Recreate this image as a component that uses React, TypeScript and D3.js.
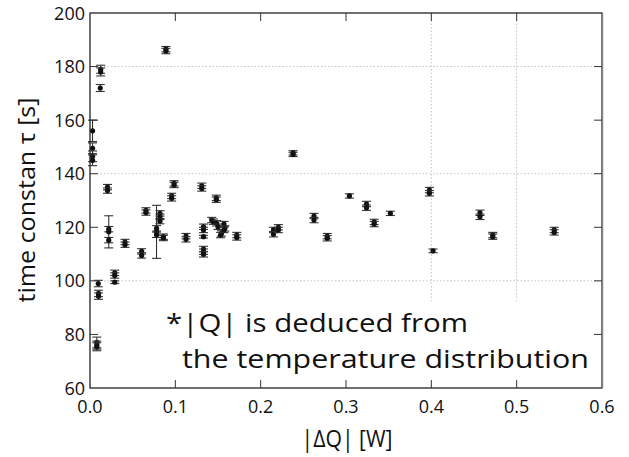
import React from "react";
import * as d3 from "d3";

const xVals = [
  0.003, 0.003, 0.003, 0.003, 0.0125, 0.0125, 0.012, 0.0097, 0.01, 0.01,
  0.008, 0.008, 0.008, 0.0205, 0.0205, 0.022, 0.022, 0.022, 0.029, 0.029,
  0.029, 0.041, 0.041, 0.0605, 0.0605, 0.0656, 0.0656, 0.078, 0.078, 0.078,
  0.082, 0.082, 0.082, 0.086, 0.086, 0.089, 0.089, 0.0957, 0.0957, 0.0985,
  0.0985, 0.1125, 0.1125, 0.131, 0.131, 0.133, 0.133, 0.133, 0.133, 0.133,
  0.133, 0.1426, 0.1445, 0.148, 0.148, 0.1485, 0.15, 0.154, 0.153, 0.157,
  0.158, 0.157, 0.172, 0.172, 0.215, 0.215, 0.2207, 0.2207, 0.238, 0.238,
  0.2625, 0.2625, 0.278, 0.278, 0.304, 0.324, 0.324, 0.333, 0.333, 0.352,
  0.3977, 0.3977, 0.402, 0.457, 0.457, 0.472, 0.472, 0.544, 0.544,
];
const tauVals = [
  156, 149.5, 146.5, 145, 179, 178, 172, 99, 95.3, 94.3,
  77, 76, 75.4, 135, 133.7, 119.3, 118.3, 115.2, 103, 102,
  99.5, 114.5, 113.5, 111, 109.5, 126.3, 125.5, 119.6, 118.3, 117.2,
  125.2, 123.9, 122.3, 116.5, 116, 186.5, 185.8, 131.7, 130.8, 136.4,
  135.8, 116.7, 115.5, 135.5, 134.5, 120.2, 119, 116.5, 111.9, 110.9,
  109.9, 122.7, 122.1, 131, 130.3, 121.5, 120.2, 117.7, 117.1, 121.2,
  119.6, 119, 117.1, 116.2, 119, 117.4, 120, 119, 147.8, 147.2,
  124.2, 122.7, 116.7, 115.9, 131.7, 128.7, 127.3, 122, 121.2, 125.2,
  133.9, 132.7, 111.2, 125.4, 123.9, 117.1, 116.5, 119, 118.1,
];
const errVals = [
  4, 2, 2, 2, 1.5, 1.5, 1.3, 1.2, 1.2, 1.2,
  2, 1.5, 1.5, 1, 1, 1, 6, 1, 1, 1,
  0.5, 1, 1, 1, 1, 1, 1, 1, 9.9, 1,
  1, 1, 1, 1, 1, 1, 1, 1, 1, 1,
  1, 1, 1, 1, 1, 1, 1, 0.5, 1, 1,
  1, 1, 1, 1, 1, 1, 1, 1, 1, 1,
  1, 1, 1, 1, 1, 1, 1, 1, 0.8, 0.8,
  1, 1, 1, 1, 0.8, 1, 1, 1, 1, 0.8,
  1, 1, 0.7, 1, 1, 1, 1, 1, 1,
];

const xTicks = [0, 0.1, 0.2, 0.3, 0.4, 0.5, 0.6];
const yTicks = [60, 80, 100, 120, 140, 160, 180, 200];
const yGrid = [100, 140, 180];
const xGrid = [0.4, 0.5];
const noteLines = ["*|Q| is deduced from", "the temperature distribution"];

const FONT = "'Open Sans', sans-serif";

export default function App() {
  const W = 629, H = 457;
  const L = 90, R = 602, T = 13, B = 388;
  const x = d3.scaleLinear().domain([0, 0.6]).range([L, R]);
  const y = d3.scaleLinear().domain([60, 200]).range([B, T]);
  const tk = 8;

  return (
    <svg width={W} height={H} style={{ position: "absolute", left: 0, top: 0, background: "#fff" }}>
      <rect x={0} y={0} width={W} height={H} fill="#fff" />
      {/* grid */}
      {yGrid.map((v) => (
        <line key={"gy" + v} x1={L} x2={R} y1={y(v)} y2={y(v)} stroke="#c4c4c4" strokeWidth={1} strokeDasharray="1.5,2" />
      ))}
      {xGrid.map((v) => (
        <line key={"gx" + v} x1={x(v)} x2={x(v)} y1={T} y2={B} stroke="#c4c4c4" strokeWidth={1} strokeDasharray="1.5,2" />
      ))}
      {/* annotation background */}
      <rect x={160} y={301} width={438} height={84} fill="#fff" />
      {/* data */}
      {xVals.map((xv, i) => {
        const cx = x(xv);
        const cy = y(tauVals[i]);
        const y1 = y(tauVals[i] + errVals[i]);
        const y2 = y(tauVals[i] - errVals[i]);
        return (
          <g key={"p" + i}>
            <line x1={cx} x2={cx} y1={y1} y2={y2} stroke="#222" strokeWidth={1} />
            <line x1={cx - 4.5} x2={cx + 4.5} y1={y1} y2={y1} stroke="#333" strokeWidth={1.1} />
            <line x1={cx - 4.5} x2={cx + 4.5} y1={y2} y2={y2} stroke="#333" strokeWidth={1.1} />
            <circle cx={cx} cy={cy} r={2.6} fill="#111" />
          </g>
        );
      })}
      {/* frame */}
      <rect x={L} y={T} width={R - L} height={B - T} fill="none" stroke="#222" strokeWidth={1.3} />
      <line x1={R + 0.5} x2={R + 0.5} y1={T} y2={B} stroke="#888" strokeWidth={1.5} />
      {/* ticks */}
      {xTicks.slice(1, -1).map((v) => (
        <g key={"xt" + v}>
          <line x1={x(v)} x2={x(v)} y1={B} y2={B - tk} stroke="#333" strokeWidth={1} />
          <line x1={x(v)} x2={x(v)} y1={T} y2={T + tk} stroke="#333" strokeWidth={1} />
        </g>
      ))}
      {yTicks.slice(1, -1).map((v) => (
        <g key={"yt" + v}>
          <line x1={L} x2={L + tk} y1={y(v)} y2={y(v)} stroke="#333" strokeWidth={1} />
          <line x1={R} x2={R - tk} y1={y(v)} y2={y(v)} stroke="#333" strokeWidth={1} />
        </g>
      ))}
      {/* tick labels */}
      {xTicks.map((v) => (
        <text key={"xl" + v} x={x(v)} y={413} textAnchor="middle" fontFamily={FONT} fontSize={18} fill="#111">
          {d3.format(".1f")(v)}
        </text>
      ))}
      {yTicks.map((v) => (
        <text key={"yl" + v} x={85} y={y(v) + 6.5} textAnchor="end" fontFamily={FONT} fontSize={18} fill="#111">
          {v}
        </text>
      ))}
      {/* axis labels */}
      <text x={347} y={447} textAnchor="middle" fontFamily={FONT} fontSize={23} fill="#111" textLength={91} lengthAdjust="spacingAndGlyphs">
        |ΔQ| [W]
      </text>
      <text
        transform={`translate(35,200) rotate(-90)`}
        textAnchor="middle"
        fontFamily={FONT}
        fontSize={24}
        fill="#111"
        textLength={205}
        lengthAdjust="spacingAndGlyphs"
      >
        time constan τ [s]
      </text>
      {/* annotation */}
      <text fontFamily={FONT} fontSize={26} fill="#111">
        <tspan x={166} y={332} textLength={302} lengthAdjust="spacingAndGlyphs">{noteLines[0]}</tspan>
        <tspan x={182} y={368} textLength={407} lengthAdjust="spacingAndGlyphs">{noteLines[1]}</tspan>
      </text>
    </svg>
  );
}
